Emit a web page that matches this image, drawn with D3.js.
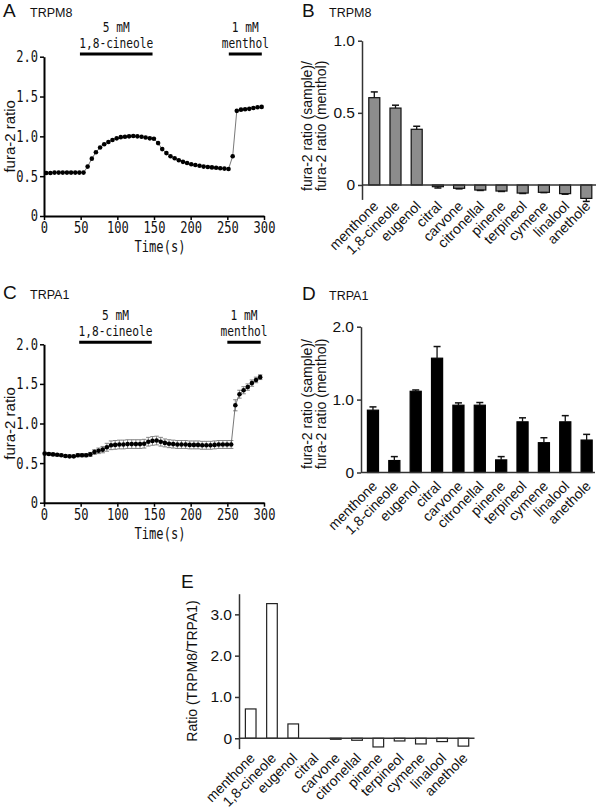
<!DOCTYPE html>
<html><head><meta charset="utf-8">
<script src="https://cdn.jsdelivr.net/npm/d3@7"></script>
<style>body{margin:0;background:#fff} svg{display:block}</style>
</head><body>
<svg id="c" width="600" height="811"></svg>
<script>
// ---------- DATA ----------
const timeA = [3,8.7,14.3,20,25.6,31.3,36.9,42.6,48.2,53.9,59.5,65.2,70.8,76.5,82.1,87.8,93.4,99.1,104.7,110.4,116,121.7,127.3,133,138.6,144.3,149.9,155.6,161.2,166.9,172.5,178.2,183.8,189.5,195.1,200.8,206.4,212.1,217.7,223.4,229,234.7,240.3,246,251.6,257.3,262.9,268.6,274.2,279.9,285.5,291.2,296.8];
const ratioA = [0.54,0.54,0.545,0.545,0.545,0.545,0.545,0.545,0.545,0.545,0.62,0.72,0.80,0.86,0.90,0.93,0.955,0.975,0.99,0.995,1.0,1.005,1.0,0.995,0.985,0.975,0.97,0.915,0.84,0.79,0.75,0.725,0.70,0.68,0.665,0.65,0.64,0.63,0.62,0.615,0.61,0.605,0.60,0.595,0.59,0.75,1.32,1.335,1.34,1.345,1.355,1.365,1.37];
const timeC = [1,6.65,12.3,17.95,23.6,29.25,34.9,40.55,46.2,51.85,57.5,63.15,68.8,74.45,80.1,85.75,91.4,97.05,102.7,108.35,114,119.65,125.3,130.95,136.6,142.25,147.9,153.55,159.2,164.85,170.5,176.15,181.8,187.45,193.1,198.75,204.4,210.05,215.7,221.35,227,232.65,238.3,243.95,249.6,255.25,260.9,266.55,272.2,277.85,283.5,289.15,294.8];
const ratioC = [0.62,0.615,0.61,0.605,0.60,0.59,0.585,0.585,0.60,0.60,0.60,0.61,0.64,0.655,0.67,0.70,0.725,0.73,0.735,0.735,0.74,0.74,0.74,0.74,0.745,0.77,0.78,0.785,0.77,0.755,0.745,0.74,0.735,0.735,0.735,0.73,0.73,0.73,0.725,0.725,0.725,0.73,0.735,0.735,0.735,0.735,1.23,1.37,1.42,1.46,1.51,1.55,1.585];
const semC = [0.015,0.015,0.015,0.015,0.015,0.015,0.015,0.015,0.02,0.02,0.02,0.025,0.03,0.035,0.04,0.05,0.055,0.055,0.055,0.055,0.055,0.055,0.055,0.055,0.055,0.055,0.055,0.055,0.055,0.05,0.05,0.05,0.05,0.05,0.05,0.05,0.05,0.05,0.05,0.05,0.05,0.05,0.05,0.05,0.05,0.05,0.07,0.05,0.045,0.04,0.04,0.035,0.03];
const stimLabels = [["5 mM","1,8-cineole"],["1 mM","menthol"]];
const stimStartA = [49,252], stimEndA = [148,297];
const stimStartC = [48,250], stimEndC = [147,295.5];
const timeTicks = [0,50,100,150,200,250,300];
const ratioTicks = [0,0.5,1.0,1.5,2.0];

const compounds = ["menthone","1,8-cineole","eugenol","citral","carvone","citronellal","pinene","terpineol","cymene","linalool","anethole"];
const trpm8 = [0.605,0.533,0.386,-0.012,-0.023,-0.035,-0.042,-0.056,-0.051,-0.06,-0.093];
const trpm8Sem = [0.04,0.02,0.021,0.009,0.004,0.003,0.003,0.003,0.002,0.004,0.021];
const trpa1 = [0.855,0.164,1.114,1.568,0.923,0.923,0.173,0.695,0.409,0.695,0.445];
const trpa1Sem = [0.045,0.054,0.018,0.16,0.032,0.037,0.045,0.055,0.068,0.085,0.078];
const ratioE = [0.71,3.26,0.347,0,-0.024,-0.048,-0.21,-0.065,-0.137,-0.08,-0.19];
const bTicks = [0,0.5,1.0], dTicks = [0,1.0,2.0], eTicks = [0,1.0,2.0,3.0];

// ---------- DRAW ----------
const svg = d3.select("#c");
const SANS = "'Liberation Sans', Arial, sans-serif";
const MONO = "'DejaVu Sans Mono', monospace";
const SQ = 0.78;

function title(x, y, letter, name) {
  svg.append("text").attr("x", x).attr("y", y).attr("font-family", SANS)
    .attr("font-size", 19).attr("fill", "#111").text(letter);
  svg.append("text").attr("x", x + 27).attr("y", y).attr("font-family", SANS)
    .attr("font-size", 12.5).attr("fill", "#111").text(name);
}

function trace(o) {
  const x = d3.scaleLinear().domain([0, 300]).range([44, 264]);
  const y = d3.scaleLinear().domain([0, 2]).range([o.y0, o.yTop]);
  const g = svg.append("g");
  const ya = g.append("g").attr("transform", `translate(${x(0)},0)`)
    .call(d3.axisLeft(y).tickValues(ratioTicks).tickSize(4).tickSizeOuter(0)
      .tickFormat(d => d === 0 ? "0" : d3.format(".1f")(d)));
  const xa = g.append("g").attr("transform", `translate(0,${y(0)})`)
    .call(d3.axisBottom(x).tickValues(timeTicks).tickSize(4).tickSizeOuter(0));
  [ya, xa].forEach(a => {
    a.select(".domain").attr("stroke", "#000").attr("stroke-width", 2);
    a.selectAll(".tick line").attr("stroke", "#000").attr("stroke-width", 1.5);
    a.selectAll("text").attr("font-family", MONO).attr("font-size", 15.5).attr("fill", "#111");
  });
  ya.selectAll("text").attr("x", -6 / SQ).attr("transform", `scale(${SQ},1)`);
  xa.selectAll("text").attr("y", 6).attr("transform", `scale(${SQ},1)`);
  g.append("text").attr("transform", `translate(${(x(0)+x(300))/2 + 6},${y(0) + 36}) scale(${SQ},1)`)
    .attr("text-anchor", "middle").attr("font-family", MONO).attr("font-size", 15.5)
    .attr("fill", "#111").text("Time(s)");
  g.append("text").attr("transform", `translate(15,${(y(0)+y(2))/2}) rotate(-90)`)
    .attr("text-anchor", "middle").attr("font-family", SANS).attr("font-size", 15)
    .attr("fill", "#111").text("fura-2 ratio");
  stimLabels.forEach((lab, i) => {
    const a = x(o.s0[i]), b = x(o.s1[i]), cx = (a + b) / 2;
    g.append("line").attr("x1", a).attr("x2", b).attr("y1", o.barY).attr("y2", o.barY)
      .attr("stroke", "#000").attr("stroke-width", 3);
    lab.forEach((t, j) => {
      g.append("text").attr("transform", `translate(${cx},${o.barY - 22 + j * 15.5}) scale(0.8,1)`)
        .attr("text-anchor", "middle").attr("font-family", MONO).attr("font-size", 14)
        .attr("fill", "#111").text(t);
    });
  });
  if (o.sem) {
    const eg = g.append("g").attr("stroke", "#777").attr("stroke-width", 0.9);
    o.t.forEach((t, i) => {
      const cx = x(t), lo = y(o.v[i] - o.sem[i]), hi = y(o.v[i] + o.sem[i]);
      eg.append("line").attr("x1", cx).attr("x2", cx).attr("y1", lo).attr("y2", hi);
      eg.append("line").attr("x1", cx - 2.2).attr("x2", cx + 2.2).attr("y1", lo).attr("y2", lo);
      eg.append("line").attr("x1", cx - 2.2).attr("x2", cx + 2.2).attr("y1", hi).attr("y2", hi);
    });
  }
  const pts = o.t.map((t, i) => [t, o.v[i]]);
  g.append("path").datum(pts).attr("fill", "none").attr("stroke", "#555").attr("stroke-width", 0.8)
    .attr("d", d3.line().x(d => x(d[0])).y(d => y(d[1])));
  g.selectAll("circle.pt").data(pts).join("circle").attr("class", "pt")
    .attr("cx", d => x(d[0])).attr("cy", d => y(d[1])).attr("r", 2.3).attr("fill", "#000");
}

function bars(o) {
  const x = d3.scaleBand().domain(compounds).range(o.xr).paddingInner(o.pi).paddingOuter(o.po);
  const y = d3.scaleLinear().domain(o.dom).range([o.yBot, o.yTop]);
  const g = svg.append("g");
  const ya = g.append("g").attr("transform", `translate(${o.xr[0]},0)`)
    .call(d3.axisLeft(y).tickValues(o.ticks).tickSize(4).tickSizeOuter(0)
      .tickFormat(d => d === 0 ? "0" : d3.format(".1f")(d)));
  ya.select(".domain").attr("stroke", "#333").attr("stroke-width", 1.5);
  ya.selectAll(".tick line").attr("stroke", "#333").attr("stroke-width", 1.5);
  ya.selectAll("text").attr("font-family", SANS).attr("font-size", 15.5).attr("fill", "#111").attr("x", -7);
  compounds.forEach((c, i) => {
    const v = o.v[i];
    if (v === 0) return;
    const x0 = x(c), w = x.bandwidth();
    g.append("rect").attr("x", x0).attr("width", w)
      .attr("y", Math.min(y(v), y(0))).attr("height", Math.abs(y(v) - y(0)))
      .attr("fill", o.fill).attr("stroke", o.stroke).attr("stroke-width", 1.2);
    if (o.sem) {
      const cx = x0 + w / 2, e = v >= 0 ? v + o.sem[i] : v - o.sem[i];
      g.append("line").attr("x1", cx).attr("x2", cx).attr("y1", y(v)).attr("y2", y(e))
        .attr("stroke", "#111").attr("stroke-width", 1.3);
      g.append("line").attr("x1", cx - 3.5).attr("x2", cx + 3.5).attr("y1", y(e)).attr("y2", y(e))
        .attr("stroke", "#111").attr("stroke-width", 1.5);
    }
  });
  g.append("line").attr("x1", o.xr[0]).attr("x2", o.xEnd).attr("y1", y(0)).attr("y2", y(0))
    .attr("stroke", "#333").attr("stroke-width", 1.5);
  compounds.forEach(c => {
    const cx = x(c) + x.bandwidth() / 2;
    g.append("text").attr("transform", `translate(${cx + 5},${o.labY}) rotate(-45)`)
      .attr("text-anchor", "end").attr("font-family", SANS).attr("font-size", 14)
      .attr("fill", "#111").text(c);
  });
  o.ylab.forEach((t, j) => {
    g.append("text").attr("transform", `translate(${o.ylabX + j * 14},${o.ylabY}) rotate(-90)`)
      .attr("text-anchor", "middle").attr("font-family", SANS).attr("font-size", 14)
      .attr("fill", "#111").text(t);
  });
}

title(3, 17, "A", "TRPM8");
trace({ t: timeA, v: ratioA, y0: 216, yTop: 56.7, barY: 54, s0: stimStartA, s1: stimEndA });
title(302, 17, "B", "TRPM8");
bars({ v: trpm8, sem: trpm8Sem, dom: [-0.1, 1.0], yBot: 199.4, yTop: 40.7, ticks: bTicks,
  xr: [362, 598.6], pi: 0.48, po: 0.32, xEnd: 596, fill: "#8c8c8c", stroke: "#111",
  labY: 207, ylab: ["fura-2 ratio (sample)/", "fura-2 ratio (menthol)"], ylabX: 312, ylabY: 126 });

title(3, 299, "C", "TRPA1");
trace({ t: timeC, v: ratioC, sem: semC, y0: 502.7, yTop: 344.3, barY: 342.3, s0: stimStartC, s1: stimEndC });
title(302, 300, "D", "TRPA1");
bars({ v: trpa1, sem: trpa1Sem, dom: [0, 2.0], yBot: 472.5, yTop: 326.7, ticks: dTicks,
  xr: [361, 598.6], pi: 0.48, po: 0.3, xEnd: 595, fill: "#000", stroke: "#000",
  labY: 487, ylab: ["fura-2 ratio (sample)/", "fura-2 ratio (menthol)"], ylabX: 312, ylabY: 404 });

svg.append("text").attr("x", 181).attr("y", 588).attr("font-family", SANS)
  .attr("font-size", 19).attr("fill", "#111").text("E");
bars({ v: ratioE, sem: null, dom: [-0.25, 3.5], yBot: 748.6, yTop: 593.7, ticks: eTicks,
  xr: [239, 475.1], pi: 0.5, po: 0.3, xEnd: 474.5, fill: "#fff", stroke: "#222",
  labY: 759, ylab: ["Ratio (TRPM8/TRPA1)"], ylabX: 197, ylabY: 671 });
</script>
</body></html>
